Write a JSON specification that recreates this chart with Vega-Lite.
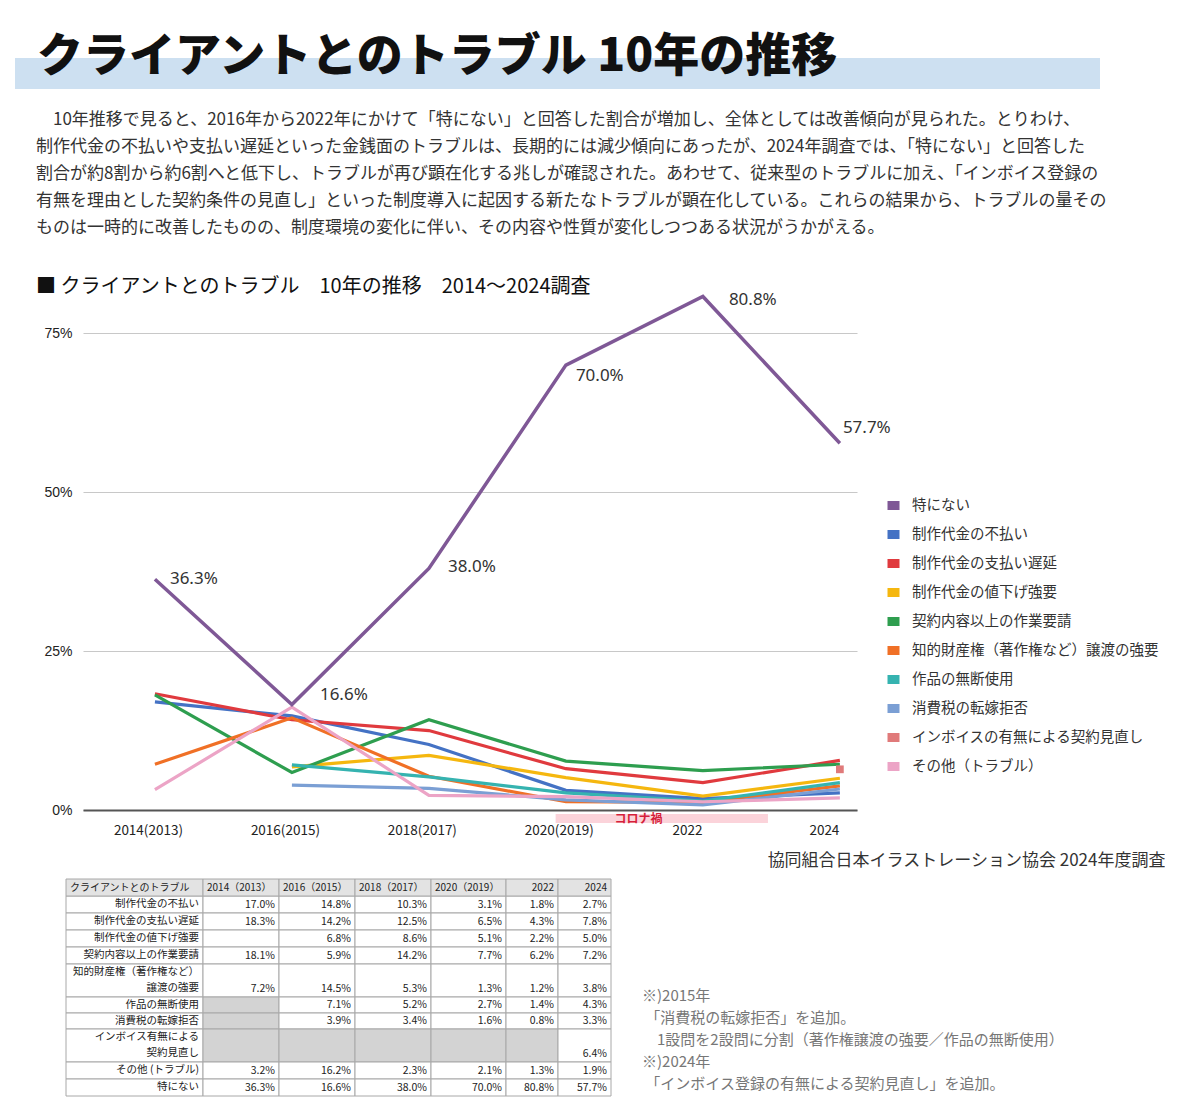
{
  "$schema": "https://vega.github.io/schema/vega-lite/v6.json",
  "background": "white",
  "padding": {"left": 15, "top": 34, "right": 0, "bottom": 0},
  "config": {
    "view": {"stroke": null},
    "font": "Noto Sans CJK JP",
    "title": {"font": "Noto Sans CJK JP", "subtitleFont": "Noto Sans CJK JP"}
  },
  "datasets": {
    "survey": [
      {"item": "制作代金の不払い", "label": "制作代金の不払い", "2014": 17.0, "2016": 14.8, "2018": 10.3, "2020": 3.1, "2022": 1.8, "2024": 2.7},
      {"item": "制作代金の支払い遅延", "label": "制作代金の支払い遅延", "2014": 18.3, "2016": 14.2, "2018": 12.5, "2020": 6.5, "2022": 4.3, "2024": 7.8},
      {"item": "制作代金の値下げ強要", "label": "制作代金の値下げ強要", "2014": null, "2016": 6.8, "2018": 8.6, "2020": 5.1, "2022": 2.2, "2024": 5.0},
      {"item": "契約内容以上の作業要請", "label": "契約内容以上の作業要請", "2014": 18.1, "2016": 5.9, "2018": 14.2, "2020": 7.7, "2022": 6.2, "2024": 7.2},
      {"item": "知的財産権（著作権など）譲渡の強要", "label": "知的財産権（著作権など）\n譲渡の強要", "2014": 7.2, "2016": 14.5, "2018": 5.3, "2020": 1.3, "2022": 1.2, "2024": 3.8},
      {"item": "作品の無断使用", "label": "作品の無断使用", "added": 2016, "2014": null, "2016": 7.1, "2018": 5.2, "2020": 2.7, "2022": 1.4, "2024": 4.3},
      {"item": "消費税の転嫁拒否", "label": "消費税の転嫁拒否", "added": 2016, "2014": null, "2016": 3.9, "2018": 3.4, "2020": 1.6, "2022": 0.8, "2024": 3.3},
      {"item": "インボイスの有無による契約見直し", "label": "インボイス有無による\n契約見直し", "added": 2024, "2014": null, "2016": null, "2018": null, "2020": null, "2022": null, "2024": 6.4},
      {"item": "その他（トラブル）", "label": "その他 (トラブル)", "2014": 3.2, "2016": 16.2, "2018": 2.3, "2020": 2.1, "2022": 1.3, "2024": 1.9},
      {"item": "特にない", "label": "特にない", "2014": 36.3, "2016": 16.6, "2018": 38.0, "2020": 70.0, "2022": 80.8, "2024": 57.7}
    ],
    "columns": [
      {"year": 2012, "head": "クライアントとのトラブル"},
      {"year": 2014, "head": "2014（2013）"},
      {"year": 2016, "head": "2016（2015）"},
      {"year": 2018, "head": "2018（2017）"},
      {"year": 2020, "head": "2020（2019）"},
      {"year": 2022, "head": "2022"},
      {"year": 2024, "head": "2024"}
    ],
    "covid": [{"period": "コロナ禍", "from": 2019.85, "to": 2022.95}]
  },
  "resolve": {"scale": {"color": "independent"}, "legend": {"color": "independent"}},
  "vconcat": [
    {
      "spacing": 22,
      "resolve": {"scale": {"color": "independent"}, "legend": {"color": "independent"}},
      "vconcat": [
        {
          "width": 1085,
          "height": 31,
          "data": {"values": [{}]},
          "mark": {"type": "text", "text": ""},
          "view": {"fill": "#cde0f1"},
          "title": {
            "text": "クライアントとのトラブル 10年の推移",
            "anchor": "start",
            "frame": "group",
            "dx": 22,
            "offset": -23,
            "fontSize": 46,
            "fontWeight": 900,
            "color": "#111111"
          }
        },
        {
          "spacing": 0,
          "resolve": {"scale": {"color": "independent"}, "legend": {"color": "independent"}},
          "hconcat": [
            {"width": 21, "height": 1, "data": {"values": [{}]}, "mark": {"type": "text", "text": ""}},
            {
              "width": 774,
              "height": 483,
              "title": {
                "text": [
                  "\u200b　10年推移で見ると、2016年から2022年にかけて「特にない」と回答した割合が増加し、全体としては改善傾向が見られた。とりわけ、",
                  "制作代金の不払いや支払い遅延といった金銭面のトラブルは、長期的には減少傾向にあったが、2024年調査では、「特にない」と回答した",
                  "割合が約8割から約6割へと低下し、トラブルが再び顕在化する兆しが確認された。あわせて、従来型のトラブルに加え、「インボイス登録の",
                  "有無を理由とした契約条件の見直し」といった制度導入に起因する新たなトラブルが顕在化している。これらの結果から、トラブルの量その",
                  "ものは一時的に改善したものの、制度環境の変化に伴い、その内容や性質が変化しつつある状況がうかがえる。"
                ],
                "subtitle": "■ クライアントとのトラブル　10年の推移　2014～2024調査",
                "anchor": "start",
                "frame": "group",
                "dx": -47,
                "offset": -9,
                "fontSize": 17,
                "fontWeight": "normal",
                "color": "#333333",
                "lineHeight": 27,
                "subtitleFontSize": 20,
                "subtitleColor": "#111111",
                "subtitlePadding": 40
              },
              "layer": [
                {
                  "data": {"name": "survey"},
                  "transform": [
                    {"fold": ["2014", "2016", "2018", "2020", "2022", "2024"], "as": ["key", "value"]},
                    {"calculate": "toNumber(datum.key)", "as": "year"},
                    {"filter": "isValid(datum.value)"},
                    {"calculate": "format(datum.value, '.1f') + '%'", "as": "pct"}
                  ],
                  "encoding": {
                    "x": {
                      "field": "year",
                      "type": "quantitative",
                      "scale": {"domain": [2012.95, 2024.25], "nice": false, "zero": false},
                      "axis": {
                        "values": [2014, 2016, 2018, 2020, 2022, 2024],
                        "labelExpr": "datum.value >= 2022 ? '' + datum.value : datum.value + '(' + (datum.value - 1) + ')'",
                        "labelFontSize": 13.5,
                        "labelColor": "#222222",
                        "labelPadding": 13,
                        "labelOffset": {"condition": {"test": "datum.value >= 2022", "value": -16}, "value": -7},
                        "labelFlush": false,
                        "labelOverlap": false,
                        "ticks": false,
                        "grid": false,
                        "domainColor": "#555555",
                        "domainWidth": 2,
                        "title": "協同組合日本イラストレーション協会 2024年度調査",
                        "titleX": 1082,
                        "titleY": 50,
                        "titleAlign": "right",
                        "titleBaseline": "middle",
                        "titleFontSize": 17,
                        "titleFontWeight": "normal",
                        "titleColor": "#333333"
                      }
                    },
                    "y": {
                      "field": "value",
                      "type": "quantitative",
                      "scale": {"domain": [0, 76], "nice": false},
                      "axis": {
                        "values": [0, 25, 50, 75],
                        "labelExpr": "datum.value + '%'",
                        "labelFont": "Liberation Sans",
                        "labelFontSize": 14,
                        "labelColor": "#222222",
                        "labelPadding": 11,
                        "ticks": false,
                        "domain": false,
                        "gridColor": "#c8c8c8",
                        "gridWidth": 1.2,
                        "title": null
                      }
                    }
                  },
                  "layer": [
                    {
                      "transform": [{"filter": "datum.item !== '特にない'"}],
                      "mark": {"type": "line", "strokeWidth": 3.2},
                      "encoding": {
                        "color": {
                          "field": "item",
                          "type": "nominal",
                          "scale": {
                            "domain": ["特にない", "制作代金の不払い", "制作代金の支払い遅延", "制作代金の値下げ強要", "契約内容以上の作業要請", "知的財産権（著作権など）譲渡の強要", "作品の無断使用", "消費税の転嫁拒否", "インボイスの有無による契約見直し", "その他（トラブル）"],
                            "range": ["#7f5896", "#4472c4", "#e03a3e", "#f5b70f", "#2e9e4f", "#f07026", "#35b3b0", "#7b9fd4", "#e07a7a", "#eca4c6"]
                          },
                          "legend": {
                            "orient": "none",
                            "legendX": 800,
                            "legendY": 168,
                            "title": null,
                            "symbolType": "M-1,0H1",
                            "symbolSize": 144,
                            "symbolStrokeWidth": 9,
                            "labelFontSize": 14.5,
                            "labelColor": "#333333",
                            "labelOffset": 8,
                            "rowPadding": -8,
                            "labelLimit": 400
                          }
                        }
                      }
                    },
                    {
                      "transform": [{"filter": "datum.item === '特にない'"}],
                      "mark": {"type": "line", "strokeWidth": 3.5},
                      "encoding": {"color": {"field": "item", "type": "nominal"}}
                    },
                    {
                      "transform": [{"filter": "datum.item === 'インボイスの有無による契約見直し'"}],
                      "mark": {"type": "square", "size": 60, "opacity": 1, "filled": true},
                      "encoding": {"color": {"field": "item", "type": "nominal"}}
                    },
                    {
                      "transform": [{"filter": "datum.item === '特にない' && datum.year === 2014"}],
                      "mark": {"type": "text", "align": "left", "baseline": "middle", "dx": 15, "dy": 0, "fontSize": 17, "font": "Noto Sans", "color": "#333333"},
                      "encoding": {"text": {"field": "pct"}}
                    },
                    {
                      "transform": [{"filter": "datum.item === '特にない' && datum.year === 2016"}],
                      "mark": {"type": "text", "align": "left", "baseline": "middle", "dx": 28, "dy": -10, "fontSize": 17, "font": "Noto Sans", "color": "#333333"},
                      "encoding": {"text": {"field": "pct"}}
                    },
                    {
                      "transform": [{"filter": "datum.item === '特にない' && datum.year === 2018"}],
                      "mark": {"type": "text", "align": "left", "baseline": "middle", "dx": 19, "dy": -2, "fontSize": 17, "font": "Noto Sans", "color": "#333333"},
                      "encoding": {"text": {"field": "pct"}}
                    },
                    {
                      "transform": [{"filter": "datum.item === '特にない' && datum.year === 2020"}],
                      "mark": {"type": "text", "align": "left", "baseline": "middle", "dx": 10, "dy": 11, "fontSize": 17, "font": "Noto Sans", "color": "#333333"},
                      "encoding": {"text": {"field": "pct"}}
                    },
                    {
                      "transform": [{"filter": "datum.item === '特にない' && datum.year === 2022"}],
                      "mark": {"type": "text", "align": "left", "baseline": "middle", "dx": 26, "dy": 4, "fontSize": 17, "font": "Noto Sans", "color": "#333333"},
                      "encoding": {"text": {"field": "pct"}}
                    },
                    {
                      "transform": [{"filter": "datum.item === '特にない' && datum.year === 2024"}],
                      "mark": {"type": "text", "align": "left", "baseline": "middle", "dx": 3, "dy": -15, "fontSize": 17, "font": "Noto Sans", "color": "#333333"},
                      "encoding": {"text": {"field": "pct"}}
                    }
                  ]
                },
                {
                  "data": {"name": "covid"},
                  "layer": [
                    {
                      "mark": {"type": "rect", "color": "#fbd3da"},
                      "encoding": {
                        "x": {"field": "from", "type": "quantitative"},
                        "x2": {"field": "to"},
                        "y": {"datum": -0.62, "type": "quantitative"},
                        "y2": {"datum": -2.05}
                      }
                    },
                    {
                      "mark": {"type": "text", "color": "#d61f3b", "fontSize": 12, "fontWeight": "bold", "align": "left", "baseline": "middle", "dx": 59},
                      "encoding": {
                        "x": {"field": "from", "type": "quantitative"},
                        "y": {"datum": -1.35, "type": "quantitative"},
                        "text": {"field": "period"}
                      }
                    }
                  ]
                }
              ]
            }
          ]
        }
      ]
    },
    {
      "spacing": 30,
      "hconcat": [
        {"width": 20, "height": 1, "data": {"values": [{}]}, "mark": {"type": "text", "text": ""}},
        {
          "width": 545,
          "height": 217,
          "layer": [
            {
              "data": {"name": "survey"},
              "transform": [
                {"window": [{"op": "row_number", "as": "r"}]},
                {"calculate": "datum.r + 1", "as": "rEnd"}
              ],
              "layer": [
                {
                  "mark": {"type": "rect", "fill": "white", "stroke": "#a8a8a8", "strokeWidth": 1},
                  "encoding": {
                    "x": {"datum": 2012, "type": "quantitative", "scale": {"domain": [2012, 2014, 2016, 2018, 2020, 2022, 2024, 2026], "range": [0, 137, 213, 289, 365, 440, 492, 545], "nice": false, "zero": false}, "axis": null},
                    "x2": {"datum": 2014},
                    "y": {"field": "r", "type": "quantitative", "scale": {"domain": [0, 1, 2, 3, 4, 5, 6, 7, 8, 9, 10, 11], "range": [0, 17, 34, 51, 68, 85, 118, 134, 150, 183, 200, 217], "nice": false, "zero": false}, "axis": null},
                    "y2": {"field": "rEnd"}
                  }
                },
                {
                  "mark": {"type": "text", "align": "right", "baseline": "top", "dx": -4, "dy": 3, "fontSize": 10.5, "lineBreak": "\n", "lineHeight": 16, "color": "#222222"},
                  "encoding": {
                    "x": {"datum": 2014, "type": "quantitative"},
                    "y": {"field": "r", "type": "quantitative"},
                    "text": {"field": "label"}
                  }
                }
              ]
            },
            {
              "data": {"name": "survey"},
              "transform": [
                {"window": [{"op": "row_number", "as": "r"}]},
                {"calculate": "datum.r + 1", "as": "rEnd"},
                {"fold": ["2014", "2016", "2018", "2020", "2022", "2024"], "as": ["key", "value"]},
                {"calculate": "toNumber(datum.key)", "as": "year"},
                {"calculate": "datum.year + 2", "as": "yearEnd"}
              ],
              "layer": [
                {
                  "mark": {"type": "rect", "stroke": "#a8a8a8", "strokeWidth": 1},
                  "encoding": {
                    "x": {"field": "year", "type": "quantitative"},
                    "x2": {"field": "yearEnd"},
                    "y": {"field": "r", "type": "quantitative"},
                    "y2": {"field": "rEnd"},
                    "fill": {"condition": {"test": "datum.added && datum.year < datum.added", "value": "#d3d3d3"}, "value": "white"}
                  }
                },
                {
                  "transform": [
                    {"filter": "isValid(datum.value)"},
                    {"calculate": "format(datum.value, '.1f') + '%'", "as": "pct"}
                  ],
                  "mark": {"type": "text", "align": "right", "baseline": "bottom", "dx": -4, "dy": -3, "fontSize": 10.5, "color": "#222222"},
                  "encoding": {
                    "x": {"field": "yearEnd", "type": "quantitative"},
                    "y": {"field": "rEnd", "type": "quantitative"},
                    "text": {"field": "pct"}
                  }
                }
              ]
            },
            {
              "data": {"name": "columns"},
              "transform": [{"calculate": "datum.year + 2", "as": "end"}],
              "layer": [
                {
                  "mark": {"type": "rect", "fill": "#e3e3e3", "stroke": "#a8a8a8", "strokeWidth": 1},
                  "encoding": {
                    "x": {"field": "year", "type": "quantitative"},
                    "x2": {"field": "end"},
                    "y": {"datum": 0, "type": "quantitative"},
                    "y2": {"datum": 1}
                  }
                },
                {
                  "transform": [{"filter": "datum.year <= 2020"}],
                  "mark": {"type": "text", "align": "left", "baseline": "bottom", "dx": 4, "dy": -3, "fontSize": 10, "color": "#222222"},
                  "encoding": {
                    "x": {"field": "year", "type": "quantitative"},
                    "y": {"datum": 1, "type": "quantitative"},
                    "text": {"field": "head"}
                  }
                },
                {
                  "transform": [{"filter": "datum.year >= 2022"}],
                  "mark": {"type": "text", "align": "right", "baseline": "bottom", "dx": -4, "dy": -3, "fontSize": 10, "color": "#222222"},
                  "encoding": {
                    "x": {"field": "end", "type": "quantitative"},
                    "y": {"datum": 1, "type": "quantitative"},
                    "text": {"field": "head"}
                  }
                }
              ]
            }
          ]
        },
        {
          "width": 420,
          "height": 100,
          "data": {"values": [{}]},
          "mark": {"type": "text", "text": ""},
          "title": {
            "text": [
              "※)2015年",
              "\u200b\u00a0「消費税の転嫁拒否」を追加。",
              "\u200b　1設問を2設問に分割（著作権譲渡の強要／作品の無断使用）",
              "※)2024年",
              "\u200b\u00a0「インボイス登録の有無による契約見直し」を追加。"
            ],
            "orient": "bottom",
            "anchor": "start",
            "frame": "group",
            "baseline": "top",
            "offset": 10,
            "fontSize": 15,
            "fontWeight": "normal",
            "color": "#777777",
            "lineHeight": 22
          }
        }
      ]
    }
  ],
  "spacing": 5
}
